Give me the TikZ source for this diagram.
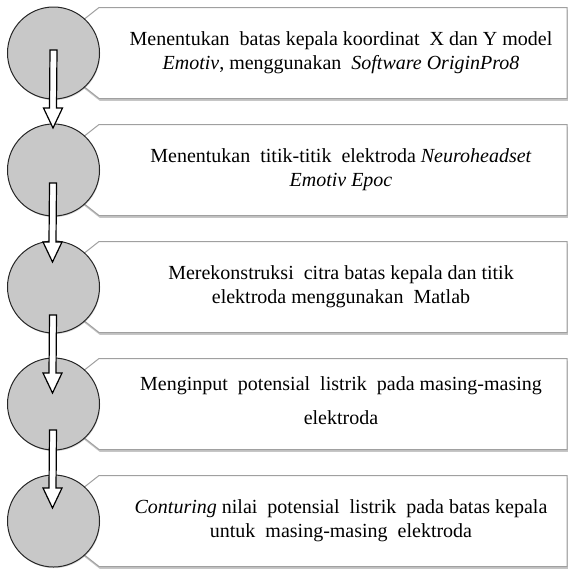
\documentclass[tikz,border=0pt]{standalone}
\usepackage{fontspec}
\setmainfont{Liberation Serif}
\usepackage{xcolor}
\usepackage{tikz}
\usetikzlibrary{shapes,arrows,positioning,calc,shadows}
\definecolor{stepgray}{RGB}{200,200,200}
\definecolor{boxline}{RGB}{160,160,160}
\tikzstyle{stepbox} = [draw=boxline, fill=white, line width=0.5pt, drop shadow={shadow xshift=0.4pt, shadow yshift=-1.2pt, opacity=0.45}]
\tikzstyle{stepcircle} = [circle, draw=black!85, fill=stepgray, line width=0.5pt, minimum size=46pt, inner sep=0, drop shadow={shadow xshift=0.3pt, shadow yshift=-0.6pt, opacity=0.3}]
\tikzstyle{steptext} = [align=center, font=\fontsize{10}{12}\selectfont]
\tikzstyle{blockarrow} = [draw=black, fill=white, line width=0.6pt, line join=miter]
% callout box behind a circle, #1 = y of its middle
\newcommand{\callbox}[1]{\draw[stepbox] (99,{#1-45.5}) -- (567,{#1-45.5}) -- (567,{#1+45.5}) -- (99,{#1+45.5}) -- (73,{#1+25}) -- (73,{#1-25}) -- cycle;}
% block arrow from #1 down to its tip #2
\newcommand{\blockarr}[2]{\draw[blockarrow] ($(#1)+(-3.5,0)$) -- ($(#2)+(-3.5,-20)$) -- ($(#2)+(-9.5,-20)$) -- (#2) -- ($(#2)+(9.5,-20)$) -- ($(#2)+(3.5,-20)$) -- ($(#1)+(3.5,0)$) -- cycle;}

\begin{document}
\begin{tikzpicture}[x=0.5pt, y=-0.5pt]
\useasboundingbox (0,0) rectangle (572,569);

% Boxes
\callbox{53}
\callbox{170}
\callbox{287}
\callbox{404}
\callbox{521}

% Circles
\node[stepcircle] (c1) at (53.5,53) {};
\node[stepcircle] (c2) at (53.5,170) {};
\node[stepcircle] (c3) at (53.5,287) {};
\node[stepcircle] (c4) at (53.5,404) {};
\node[stepcircle] (c5) at (53.5,521) {};

% Texts
\node[steptext] (t1) at (341,53) {Menentukan\ \ batas kepala koordinat\ \ X dan Y model\\ \textit{Emotiv}, menggunakan\ \ \textit{Software OriginPro8}};
\node[steptext] (t2) at (341,170) {Menentukan\ \ titik-titik\ \ elektroda \textit{Neuroheadset}\\ \textit{Emotiv Epoc}};
\node[steptext] (t3) at (341,287) {Merekonstruksi\ \ citra batas kepala dan titik\\ elektroda menggunakan\ \ Matlab};
\node[steptext] (t4) at (341,401) {Menginput\ \ potensial\ \ listrik\ \ pada masing-masing\\[5pt] elektroda};
\node[steptext] (t5) at (341,521) {\textit{Conturing} nilai\ \ potensial\ \ listrik\ \ pada batas kepala\\ untuk\ \ masing-masing\ \ elektroda};

% Arrows
\coordinate (s1) at (53.5,50);
\coordinate (e1) at (53,128);
\coordinate (s2) at (53,183);
\coordinate (e2) at (52.5,262);
\coordinate (s3) at (53,315);
\coordinate (e3) at (52.5,393);
\coordinate (s4) at (53,430);
\coordinate (e4) at (52.5,508);
\blockarr{s1}{e1}
\blockarr{s2}{e2}
\blockarr{s3}{e3}
\blockarr{s4}{e4}

\end{tikzpicture}
\end{document}
